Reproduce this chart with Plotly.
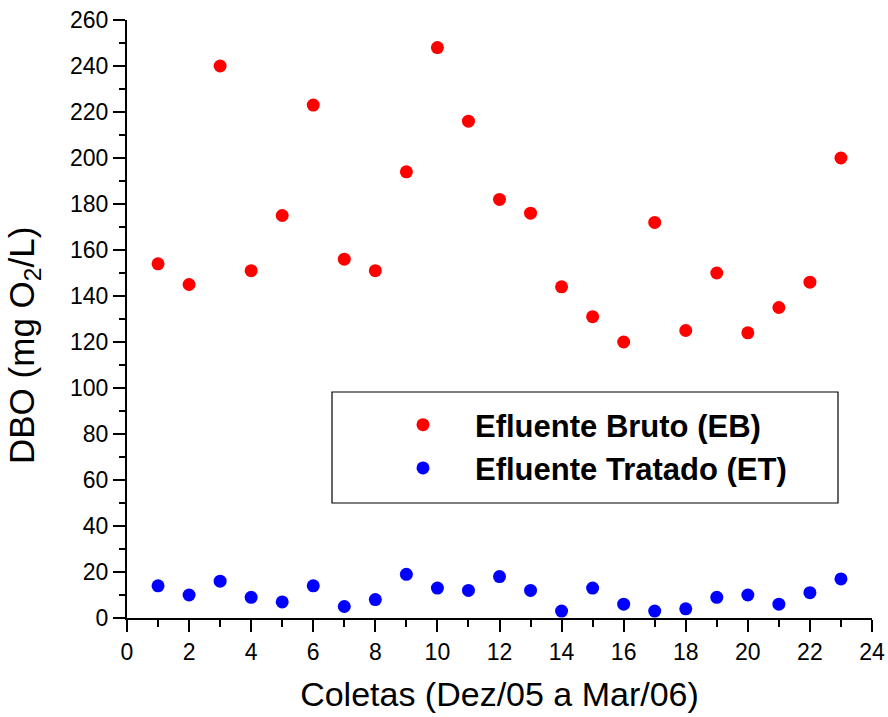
import plotly.graph_objects as go

coletas = list(range(1, 24))
eb = [154, 145, 240, 151, 175, 223, 156, 151, 194, 248, 216, 182, 176, 144, 131, 120, 172, 125, 150, 124, 135, 146, 200]
et = [14, 10, 16, 9, 7, 14, 5, 8, 19, 13, 12, 18, 12, 3, 13, 6, 3, 4, 9, 10, 6, 11, 17]
series_names = ["Efluente Bruto (EB)", "Efluente Tratado (ET)"]
series_colors = ["#ff0000", "#0000ff"]
x_title = "Coletas (Dez/05 a Mar/06)"
y_title = "DBO (mg O<sub>2</sub>/L)"

W, H = 888, 717
ML, MR, MT, MB = 127, 16, 20, 99
pw, ph = W - ML - MR, H - MT - MB

def px_x(p):  # pixel -> paper
    return (p - ML) / pw

def px_y(p):
    return (H - MB - p) / ph

fig = go.Figure()
for i, (name, vals) in enumerate(zip(series_names, [eb, et])):
    fig.add_trace(go.Scatter(
        x=coletas, y=vals, mode="markers", name=name,
        legendgroup=f"g{i}",
        marker=dict(color=series_colors[i], size=13, line=dict(width=0)),
    ))

font = "Liberation Sans, Arial, Helvetica, sans-serif"
axis_common = dict(
    showline=True, linecolor="black", linewidth=2,
    ticks="outside", ticklen=12, tickwidth=2, tickcolor="black",
    showgrid=False, zeroline=False, mirror=False, automargin=False,
    ticklabeloverflow="allow",
    tickfont=dict(family=font, size=23, color="black"),
)

fig.update_xaxes(
    range=[0, 24], dtick=2, tick0=0,
    minor=dict(dtick=1, ticklen=7, tickwidth=2, tickcolor="black", ticks="outside", showgrid=False),
    title=dict(text=x_title, font=dict(family=font, size=34, color="black"), standoff=19),
    **axis_common,
)
fig.update_yaxes(
    range=[0, 260], dtick=20, tick0=0,
    minor=dict(dtick=10, ticklen=6, tickwidth=2, tickcolor="black", ticks="outside", showgrid=False),
    **axis_common,
)

# y-axis title (placed as in the reference, slightly below axis centre)
fig.add_annotation(text=y_title, xref="paper", yref="paper",
                   x=px_x(24), y=px_y(345), xanchor="center", yanchor="middle",
                   textangle=-90, showarrow=False,
                   font=dict(family=font, size=35, color="black"))

# legend frame
fig.add_shape(type="rect", xref="paper", yref="paper",
              x0=px_x(332), x1=px_x(838), y0=px_y(503), y1=px_y(392),
              line=dict(color="black", width=1.2), fillcolor="rgba(0,0,0,0)", layer="above")

fig.update_layout(
    width=W, height=H,
    margin=dict(l=ML, r=MR, t=MT, b=MB),
    paper_bgcolor="white", plot_bgcolor="white",
    showlegend=True,
    legend=dict(
        x=px_x(371), y=px_y(398), xanchor="left", yanchor="top",
        bgcolor="rgba(0,0,0,0)", borderwidth=0,
        font=dict(family=font, size=31, color="black", weight="bold"),
        itemwidth=94, tracegroupgap=0, traceorder="grouped",
    ),
)

fig.write_html("out.html", config={"displayModeBar": False},
               post_script="document.body.style.margin='0';document.body.style.overflow='hidden';")
